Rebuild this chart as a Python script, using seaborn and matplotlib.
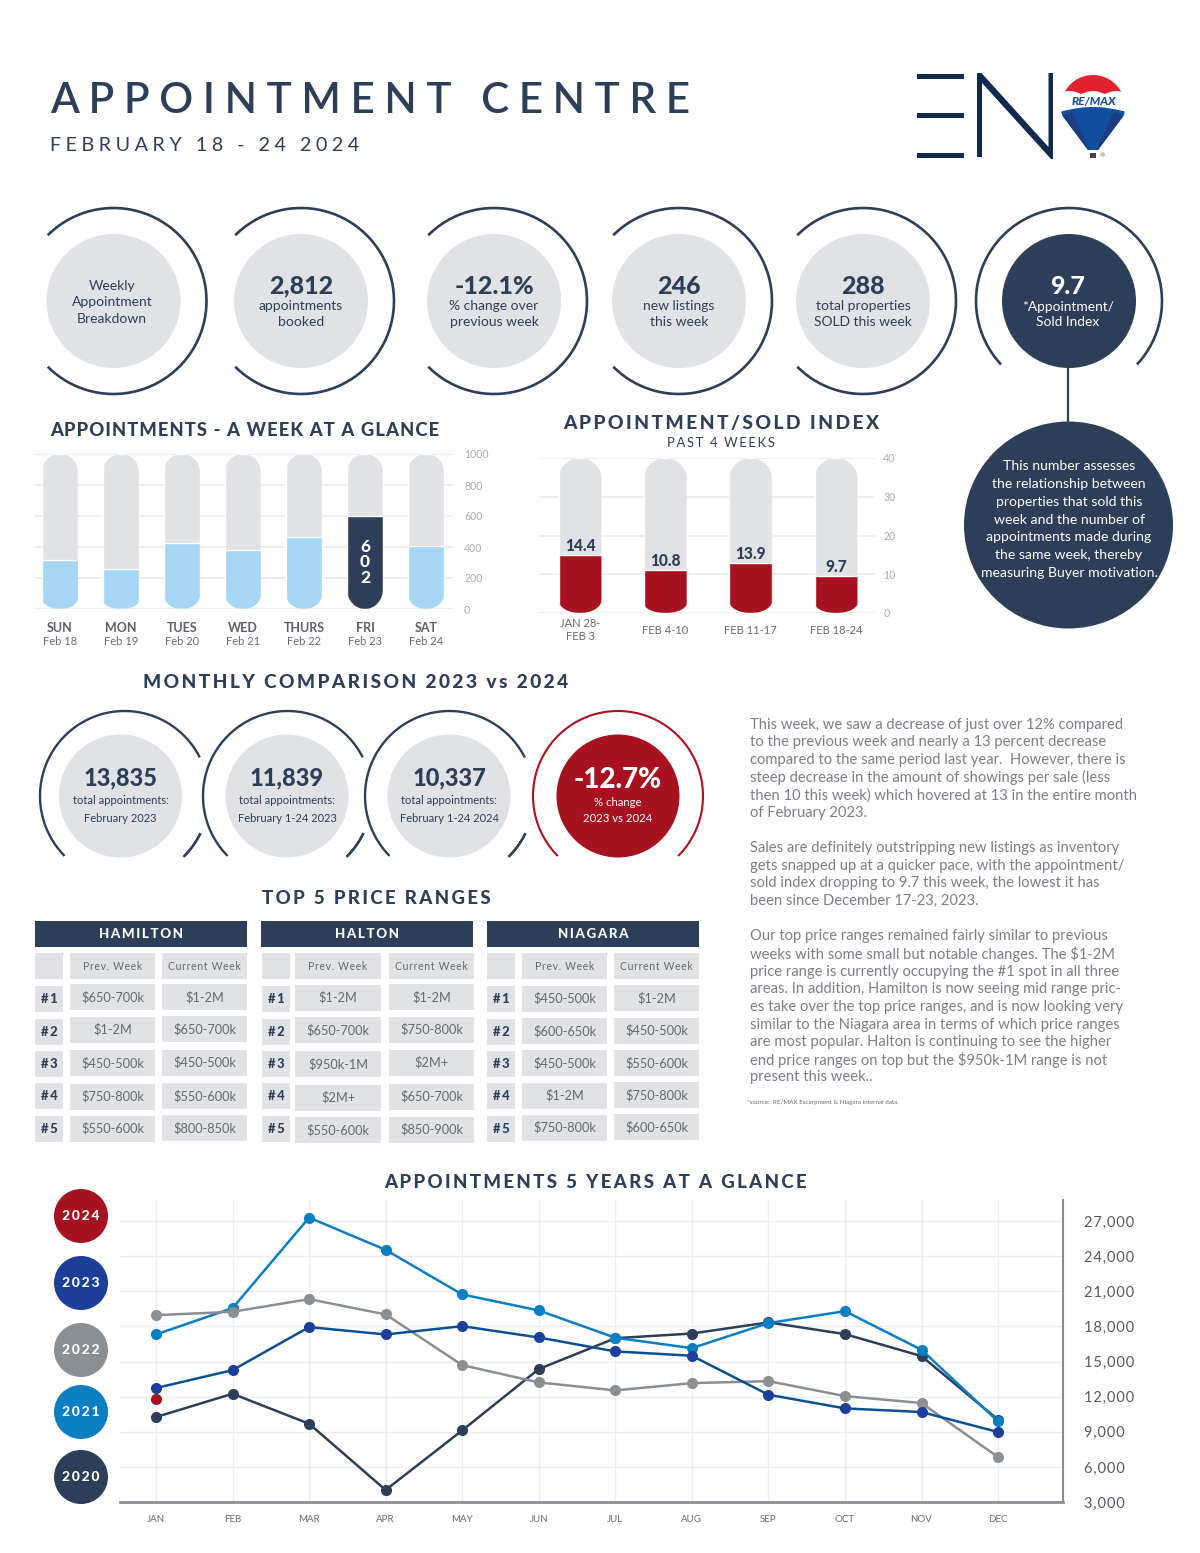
import numpy as np
import pandas as pd
import matplotlib
matplotlib.use("Agg")
import matplotlib.pyplot as plt
import seaborn as sns
from matplotlib.patches import PathPatch, Ellipse, Rectangle, Polygon
from matplotlib.path import Path
from matplotlib.ticker import FuncFormatter

# ---------- data ----------
week_days = ["SUN", "MON", "TUES", "WED", "THURS", "FRI", "SAT"]
week_dates = ["Feb 18", "Feb 19", "Feb 20", "Feb 21", "Feb 22", "Feb 23", "Feb 24"]
week_values = [314, 260, 428, 378, 464, 602, 404]
week_scale = [1000] * 7
index_weeks = ["JAN 28-\nFEB 3", "FEB 4-10", "FEB 11-17", "FEB 18-24"]
index_heights = [14.9, 11.0, 12.9, 9.6]
index_labels = ["14.4", "10.8", "13.9", "9.7"]
index_scale = [40] * 4
months = ["JAN", "FEB", "MAR", "APR", "MAY", "JUN", "JUL", "AUG", "SEP", "OCT", "NOV", "DEC"]
y2020 = [10260, 12250, 9690, 4025, 9120, 14360, 17000, 17400, 18350, 17350, 15470, 10030]
y2021 = [17320, 19570, 27310, 24550, 20740, 19370, 17040, 16150, 18290, 19310, 16010, 9890]
y2022 = [18970, 19260, 20340, 19030, 14700, 13220, 12540, 13160, 13330, 12050, 11460, 6840]
y2023 = [12740, 14270, 17950, 17320, 18030, 17060, 15870, 15500, 12170, 11000, 10690, 8980]
y2024 = [11839]
years = ["2024", "2023", "2022", "2021", "2020"]
tiers = ["#1", "#2", "#3", "#4", "#5"]
ham_prev = ["$650-700k", "$1-2M", "$450-500k", "$750-800k", "$550-600k"]
ham_cur = ["$1-2M", "$650-700k", "$450-500k", "$550-600k", "$800-850k"]
hal_prev = ["$1-2M", "$650-700k", "$950k-1M", "$2M+", "$550-600k"]
hal_cur = ["$1-2M", "$750-800k", "$2M+", "$650-700k", "$850-900k"]
nia_prev = ["$450-500k", "$600-650k", "$450-500k", "$1-2M", "$750-800k"]
nia_cur = ["$1-2M", "$450-500k", "$550-600k", "$750-800k", "$600-650k"]
body = ["This week, we saw a decrease of just over 12% compared",
        "to the previous week and nearly a 13 percent decrease",
        "compared to the same period last year.  However, there is",
        "steep decrease in the amount of showings per sale (less",
        "then 10 this week) which hovered at 13 in the entire month",
        "of February 2023.", "",
        "Sales are definitely outstripping new listings as inventory",
        "gets snapped up at a quicker pace, with the appointment/",
        "sold index dropping to 9.7 this week, the lowest it has",
        "been since December 17-23, 2023.", "",
        "Our top price ranges remained fairly similar to previous",
        "weeks with some small but notable changes. The $1-2M",
        "price range is currently occupying the #1 spot in all three",
        "areas. In addition, Hamilton is now seeing mid range pric-",
        "es take over the top price ranges, and is now looking very",
        "similar to the Niagara area in terms of which price ranges",
        "are most popular. Halton is continuing to see the higher",
        "end price ranges on top but the $950k-1M range is not",
        "present this week.."]
index_note = ["This number assesses", "the relationship between", "properties that sold this",
              "week and the number of", "appointments made during", "the same week, thereby",
              "measuring Buyer motivation."]

# ---------- style ----------
NAVY, GREY, BLUE, RED = "#2d3e58", "#e0e2e5", "#a5d6f3", "#a81120"
TXT, TICK, GRID = "#666a70", "#a9acb0", "#eceef0"
C23, C21, C22 = "#1c3f9a", "#0a7ec2", "#8a8f94"
sns.set_theme(style="white")
plt.rcParams["font.family"] = ["Lato", "DejaVu Sans"]

fig = plt.figure(figsize=(12, 15.53), dpi=100, facecolor="white")
W, H = 1200, 1553
px = fig.add_axes([0, 0, 1, 1], zorder=0)
px.set_xlim(0, W)
px.set_ylim(H, 0)
px.axis("off")


def box(x0, x1, y0, y1, **kw):
    """axes placed by pixel box (y measured from the top)"""
    return fig.add_axes([x0 / W, 1 - y1 / H, (x1 - x0) / W, (y1 - y0) / H], facecolor="none", **kw)


def T(x, y, s, size, color=NAVY, weight="normal", ha="center", va="center", **kw):
    return px.text(x, y + 2, s, fontsize=size, color=color, fontweight=weight, ha=ha, va=va, **kw)


def track(s, gap="\u200a"):
    return gap.join(s)


def rounded(x0, x1, y0, y1, rx, ryt, ryb):
    k = 0.5523
    v = [(x0, y1 - ryb), (x0, y0 + ryt),
         (x0, y0 + ryt - k * ryt), (x0 + rx - k * rx, y0), (x0 + rx, y0),
         (x1 - rx, y0),
         (x1 - rx + k * rx, y0), (x1, y0 + ryt - k * ryt), (x1, y0 + ryt),
         (x1, y1 - ryb),
         (x1, y1 - ryb + k * ryb), (x1 - rx + k * rx, y1), (x1 - rx, y1),
         (x0 + rx, y1),
         (x0 + rx - k * rx, y1), (x0, y1 - ryb + k * ryb), (x0, y1 - ryb),
         (x0, y1 - ryb)]
    c = [Path.MOVETO, Path.LINETO, Path.CURVE4, Path.CURVE4, Path.CURVE4, Path.LINETO,
         Path.CURVE4, Path.CURVE4, Path.CURVE4, Path.LINETO,
         Path.CURVE4, Path.CURVE4, Path.CURVE4, Path.LINETO,
         Path.CURVE4, Path.CURVE4, Path.CURVE4, Path.CLOSEPOLY]
    return Path(v, c)


def ring(cx, cy, rx, ry, a0, a1, color=NAVY, lw=1.9, ymax=None):
    t = np.radians(np.linspace(a0, a1, 240))
    x, y = cx + rx * np.cos(t), cy - ry * np.sin(t)
    if ymax is not None:
        y = np.where(y > ymax, np.nan, y)
    px.plot(x, y, color=color, lw=lw, solid_capstyle="butt")


def disc(cx, cy, rx, ry, color):
    px.add_patch(Ellipse((cx, cy), 2 * rx, 2 * ry, fc=color, ec="none"))


# ---------- header ----------
T(50, 99, track("APPOINTMENT CENTRE", "\u2006\u200a"), 30.3, NAVY, "semibold", ha="left")
T(50, 143.5, track("FEBRUARY 18 - 24 2024", "\u2006\u200a"), 14.2, NAVY, "normal", ha="left")
LOGO = "#12294f"
for yy in (76, 115, 155):
    px.add_patch(Rectangle((917, yy - 2.5), 46.5, 5, fc=LOGO, ec="none"))
px.add_patch(Polygon([(977, 73), (981.5, 73), (1048.5, 147), (1048.5, 73), (1053, 73), (1053, 159),
                      (1051, 159), (982, 83), (982, 157), (977, 157)], closed=True, fc=LOGO, ec="none"))
# balloon
th = np.radians(np.linspace(195, -15, 60))
bx = np.r_[1093 + 32 * np.cos(th), 1098, 1088]
by = np.r_[107 - 32 * np.sin(th), 150, 150]
outline = Polygon(np.c_[bx, by], closed=True, fc="white", ec="none", transform=px.transData)
px.add_patch(outline)
xs = np.linspace(1058, 1128, 40)
for fc, pts in [("#e3202e", np.c_[np.r_[xs, xs[::-1]], np.r_[np.full(40, 70), 94 - 3 * np.abs(np.sin((xs - 1058) / 70 * np.pi * 3))]]),
                ("#0f4f9e", np.c_[np.r_[xs, xs[::-1]], np.r_[112 - 5 * np.cos((xs - 1093) / 35 * 1.6), np.full(40, 155)]]),
                ("#1c3d80", [(1058, 118), (1072, 112), (1090, 150), (1058, 150)]),
                ("#1c3d80", [(1128, 118), (1114, 112), (1096, 150), (1128, 150)])]:
    p = Polygon(pts, closed=True, fc=fc, ec="none")
    px.add_patch(p)
    p.set_clip_path(outline)
T(1094, 100, "RE/MAX", 8.6, "#1c4f9a", "black", style="italic")
px.add_patch(Rectangle((1090, 153), 6, 5, fc="#444444", ec="none"))
T(1102, 154, "®", 4.5, "#666666")

# ---------- top row of circles ----------
for cx in (113.5, 301, 494, 679, 863):
    ring(cx, 301, 93, 93, -135, 135)
    disc(cx, 301, 67, 67, GREY)
ring(1069, 301, 93, 93, -43, 223)
disc(1069, 301, 67, 67, NAVY)
for i, s in enumerate(["Weekly", "Appointment", "Breakdown"]):
    T(112, 284 + 16.5 * i, s, 10, NAVY)
for cx, big, small in [(301, "2,812", ["appointments", "booked"]),
                       (494, "-12.1%", ["% change over", "previous week"]),
                       (679, "246", ["new listings", "this week"]),
                       (863, "288", ["total properties", "SOLD this week"])]:
    T(cx, 284, big, 18, NAVY, "black")
    for i, s in enumerate(small):
        T(cx, 304 + 16 * i, s, 10, NAVY)
T(1068, 285, "9.7", 18, "white", "black")
T(1068, 305, "*Appointment/", 9.9, "white")
T(1068, 320, "Sold Index", 9.9, "white")
px.plot([1068, 1068], [367, 425], color=NAVY, lw=1.6)
disc(1068.5, 525, 104.5, 103.5, NAVY)
for i, s in enumerate(index_note):
    T(1069, 464.5 + 17.7 * i, s, 10.1, "white")

# ---------- section titles ----------
T(245, 429, track("APPOINTMENTS - A WEEK AT A GLANCE"), 13.2, NAVY, "black")
T(721, 421, track("APPOINTMENT/SOLD INDEX", "\u2009"), 13.9, NAVY, "black")
T(721, 441, track("PAST 4 WEEKS", "\u2009"), 9.4, NAVY)
T(356, 681, track("MONTHLY COMPARISON 2023 vs 2024", "\u2009"), 13.8, NAVY, "black")
T(376, 896, track("TOP 5 PRICE RANGES", "\u2009"), 13.4, NAVY, "black")
T(595, 1180, track("APPOINTMENTS 5 YEARS AT A GLANCE", "\u2009"), 13.4, NAVY, "black")

# ---------- week bars ----------
ax = box(34, 453, 454, 609)
week_pal = [BLUE, BLUE, BLUE, BLUE, BLUE, NAVY, BLUE]
sns.barplot(x=week_days, y=week_scale, color=GREY, saturation=1, width=0.59, ax=ax)
sns.barplot(x=week_days, y=week_values, hue=week_days, palette=week_pal, legend=False,
            saturation=1, width=0.59, ax=ax)
ax.set_xlim((34 - 60) / 61, (453 - 60) / 61)
ax.set_ylim(0, 1000)
ryb = [11, 9, 14, 15, 15, 20, 15]
for i, b in enumerate(ax.patches):
    k = i % 7
    cx = 60 + 61 * k
    b.set_clip_path(PathPatch(rounded(cx - 18, cx + 18, 454, 609, 18, 18, ryb[k]), transform=px.transData))
ax.yaxis.tick_right()
ax.set_yticks([0, 200, 400, 600, 800, 1000])
ax.tick_params(axis="y", length=0, pad=8, labelsize=7.6, labelcolor=TICK)
ax.set_xticks(range(7))
ax.set_xticklabels(week_days, fontsize=9, fontweight="bold", color="#5c6066", va="center")
ax.tick_params(axis="x", length=0, pad=13.5)
ax.grid(axis="y", color=GRID, lw=1.3)
ax.set_axisbelow(True)
sns.despine(ax=ax, left=True, right=True, top=True, bottom=True)
for k, d in enumerate(week_dates):
    T(60 + 61 * k, 639.5, d, 8, TXT)
ax.text(5, week_values[5] / 2, "6\n0\n2", color="white", fontsize=12.5, fontweight="black",
        ha="center", va="center", linespacing=0.98)

# ---------- index bars ----------
ax = box(539, 875, 458, 613)
sp = (836 - 580) / 3
sns.barplot(x=index_weeks, y=index_scale, color=GREY, saturation=1, width=43 / sp, ax=ax)
sns.barplot(x=index_weeks, y=index_heights, color=RED, saturation=1, width=43 / sp, ax=ax)
ax.set_xlim((539 - 580) / sp, (875 - 580) / sp)
ax.set_ylim(0, 40)
rb = [13, 10, 12, 10]
for i, b in enumerate(ax.patches):
    k = i % 4
    cx = 580 + sp * k
    b.set_clip_path(PathPatch(rounded(cx - 21.5, cx + 21.5, 458, 613, 21.5, 21.5, rb[k]), transform=px.transData))
ax.bar_label(ax.containers[-1], labels=index_labels, padding=0.8, fontsize=11.2, fontweight="black", color=NAVY)
ax.yaxis.tick_right()
ax.set_yticks([0, 10, 20, 30, 40])
ax.tick_params(axis="y", length=0, pad=6, labelsize=7.6, labelcolor=TICK)
ax.set_xticks(range(4))
ax.set_xticklabels(index_weeks, fontsize=8, color=TXT, va="center", linespacing=1.25)
ax.tick_params(axis="x", length=0, pad=12.5)
ax.grid(axis="y", color=GRID, lw=1.3)
ax.set_axisbelow(True)
sns.despine(ax=ax, left=True, right=True, top=True, bottom=True)

# ---------- monthly comparison ----------
for cx in (124.5, 287.5, 449.5):
    ring(cx, 796, 84.5, 85, 27, 334, lw=1.7, ymax=857)
    ring(cx, 796, 84.5, 85, -60, -26, lw=1.7, ymax=857)
ring(618, 796, 85, 85, -60, 240, color=RED, lw=1.5, ymax=857)
for cx, big, l1, l2 in [(120.5, "13,835", "total appointments:", "February 2023"),
                        (287, "11,839", "total appointments:", "February 1-24 2023"),
                        (449, "10,337", "total appointments:", "February 1-24 2024")]:
    disc(cx, 796, 61.5, 61.5, GREY)
    T(cx, 776, big, 17, NAVY, "black")
    T(cx, 799, l1, 8, NAVY)
    T(cx, 816, l2, 8, NAVY)
disc(618, 796, 61.5, 61.5, RED)
T(618, 778, "-12.7%", 20, "white", "black")
T(618, 801, "% change", 8.2, "white")
T(618, 817, "2023 vs 2024", 8.2, "white")

# ---------- tables ----------
tables = [("HAMILTON", ham_prev, ham_cur, (35, 247), (35, 63), (70, 155), (162, 247),
           [130, 222, 320, 421, 521, 617], [130, 222, 319, 419, 519, 616], [130, 228, 326, 423, 520, 617]),
          ("HALTON", hal_prev, hal_cur, (261, 473), (262, 290), (295, 381), (389, 474),
           [130, 224, 322, 423, 524, 622], [130, 222, 320, 419, 521, 620], [130, 228, 326, 423, 520, 617]),
          ("NIAGARA", nia_prev, nia_cur, (487, 699), (487, 515), (522, 607), (614, 699),
           [130, 227, 324, 421, 518, 614], [130, 225, 323, 420, 516, 612], [130, 228, 326, 423, 520, 617])]


def cell(xr, top, txt=None, **kw):
    y0 = 910 + top / 3
    px.add_patch(Rectangle((xr[0], y0), xr[1] - xr[0], 26, fc=GREY, ec="none"))
    if txt:
        T((xr[0] + xr[1]) / 2, y0 + 11, txt, **kw)


for name, prev, cur, hx, rx_, px_, cx_, ptop, ctop, rtop in tables:
    px.add_patch(Rectangle((hx[0], 921), hx[1] - hx[0], 25.5, fc=NAVY, ec="none"))
    T((hx[0] + hx[1]) / 2, 932, track(name, "\u2009"), 9.6, "white", "black")
    cell(rx_, rtop[0])
    cell(px_, ptop[0], track("Prev. Week", "\u200a"), size=7.6, color=TXT)
    cell(cx_, ctop[0], track("Current Week", "\u200a"), size=7.6, color=TXT)
    for i in range(5):
        cell(rx_, rtop[i + 1], track(tiers[i], "\u2009"), size=9.4, color=NAVY, weight="black")
        cell(px_, ptop[i + 1], prev[i], size=9.2, color=TXT)
        cell(cx_, ctop[i + 1], cur[i], size=9.2, color=TXT)

# ---------- body ----------
ys = 722.5
for line in body:
    if line:
        T(750, ys, line, 10.67, "#7b7f85", "normal", ha="left")
    ys += 17.65
T(747, 1100.5, "*source:  RE/MAX Escarpment & Niagara internal data.", 4.5, TXT, ha="left")

# ---------- 5 years ----------
ax = box(120, 1063, 1200, 1502)
step = 76.55
frames = [pd.DataFrame({"month": months[:len(v)], "value": v, "year": y})
          for y, v in [("2020", y2020), ("2021", y2021), ("2022", y2022), ("2023", y2023), ("2024", y2024)]]
long_df = pd.concat(frames, ignore_index=True)
sns.lineplot(data=long_df, x="month", y="value", hue="year", sort=False, marker="o", markersize=8,
             markeredgewidth=0, lw=1.8, legend=False,
             hue_order=["2020", "2021", "2022", "2023", "2024"],
             palette=[NAVY, C21, C22, "#0d4f94", RED], ax=ax)
ax.lines[3].set_markerfacecolor(C23)
ax.set_xlim((120 - 156) / step, (1063 - 156) / step)
ax.set_ylim(3000, 3000 + (1502 - 1200) / 35.1 * 3000)
ax.set_xlabel("")
ax.set_ylabel("")
ax.set_xticks(range(12))
ax.set_xticklabels(months, fontsize=7, color=TXT)
ax.tick_params(axis="x", which="major", length=0, pad=9.5)
ax.set_xticks(np.arange(-0.5, 11.6, 1) + 0.03, minor=True)
ax.tick_params(axis="x", which="minor", direction="in", length=5, width=1.3, color="#8a8d92")
ax.yaxis.tick_right()
ax.set_yticks(range(3000, 27001, 3000))
ax.yaxis.set_major_formatter(FuncFormatter(lambda v, p: track(f"{int(v):,}", "\u200a")))
ax.tick_params(axis="y", length=0, pad=15, labelsize=10.5, labelcolor="#55595f")
ax.grid(axis="both", which="major", color=GRID, lw=1.0)
ax.set_axisbelow(True)
for s in ("top", "left"):
    ax.spines[s].set_visible(False)
for s in ("right", "bottom"):
    ax.spines[s].set_visible(True)
    ax.spines[s].set_color("#8a8d92")
ax.spines["bottom"].set_linewidth(2.0)
ax.spines["right"].set_linewidth(1.5)

for y, c, yy in zip(years, [RED, C23, C22, C21, NAVY], [1216, 1283, 1350, 1412, 1477]):
    disc(81, yy, 27, 27, c)
    T(81, yy - 2, track(y, "\u2009"), 10, "white", "black")

fig.savefig("out.png", dpi=100)
